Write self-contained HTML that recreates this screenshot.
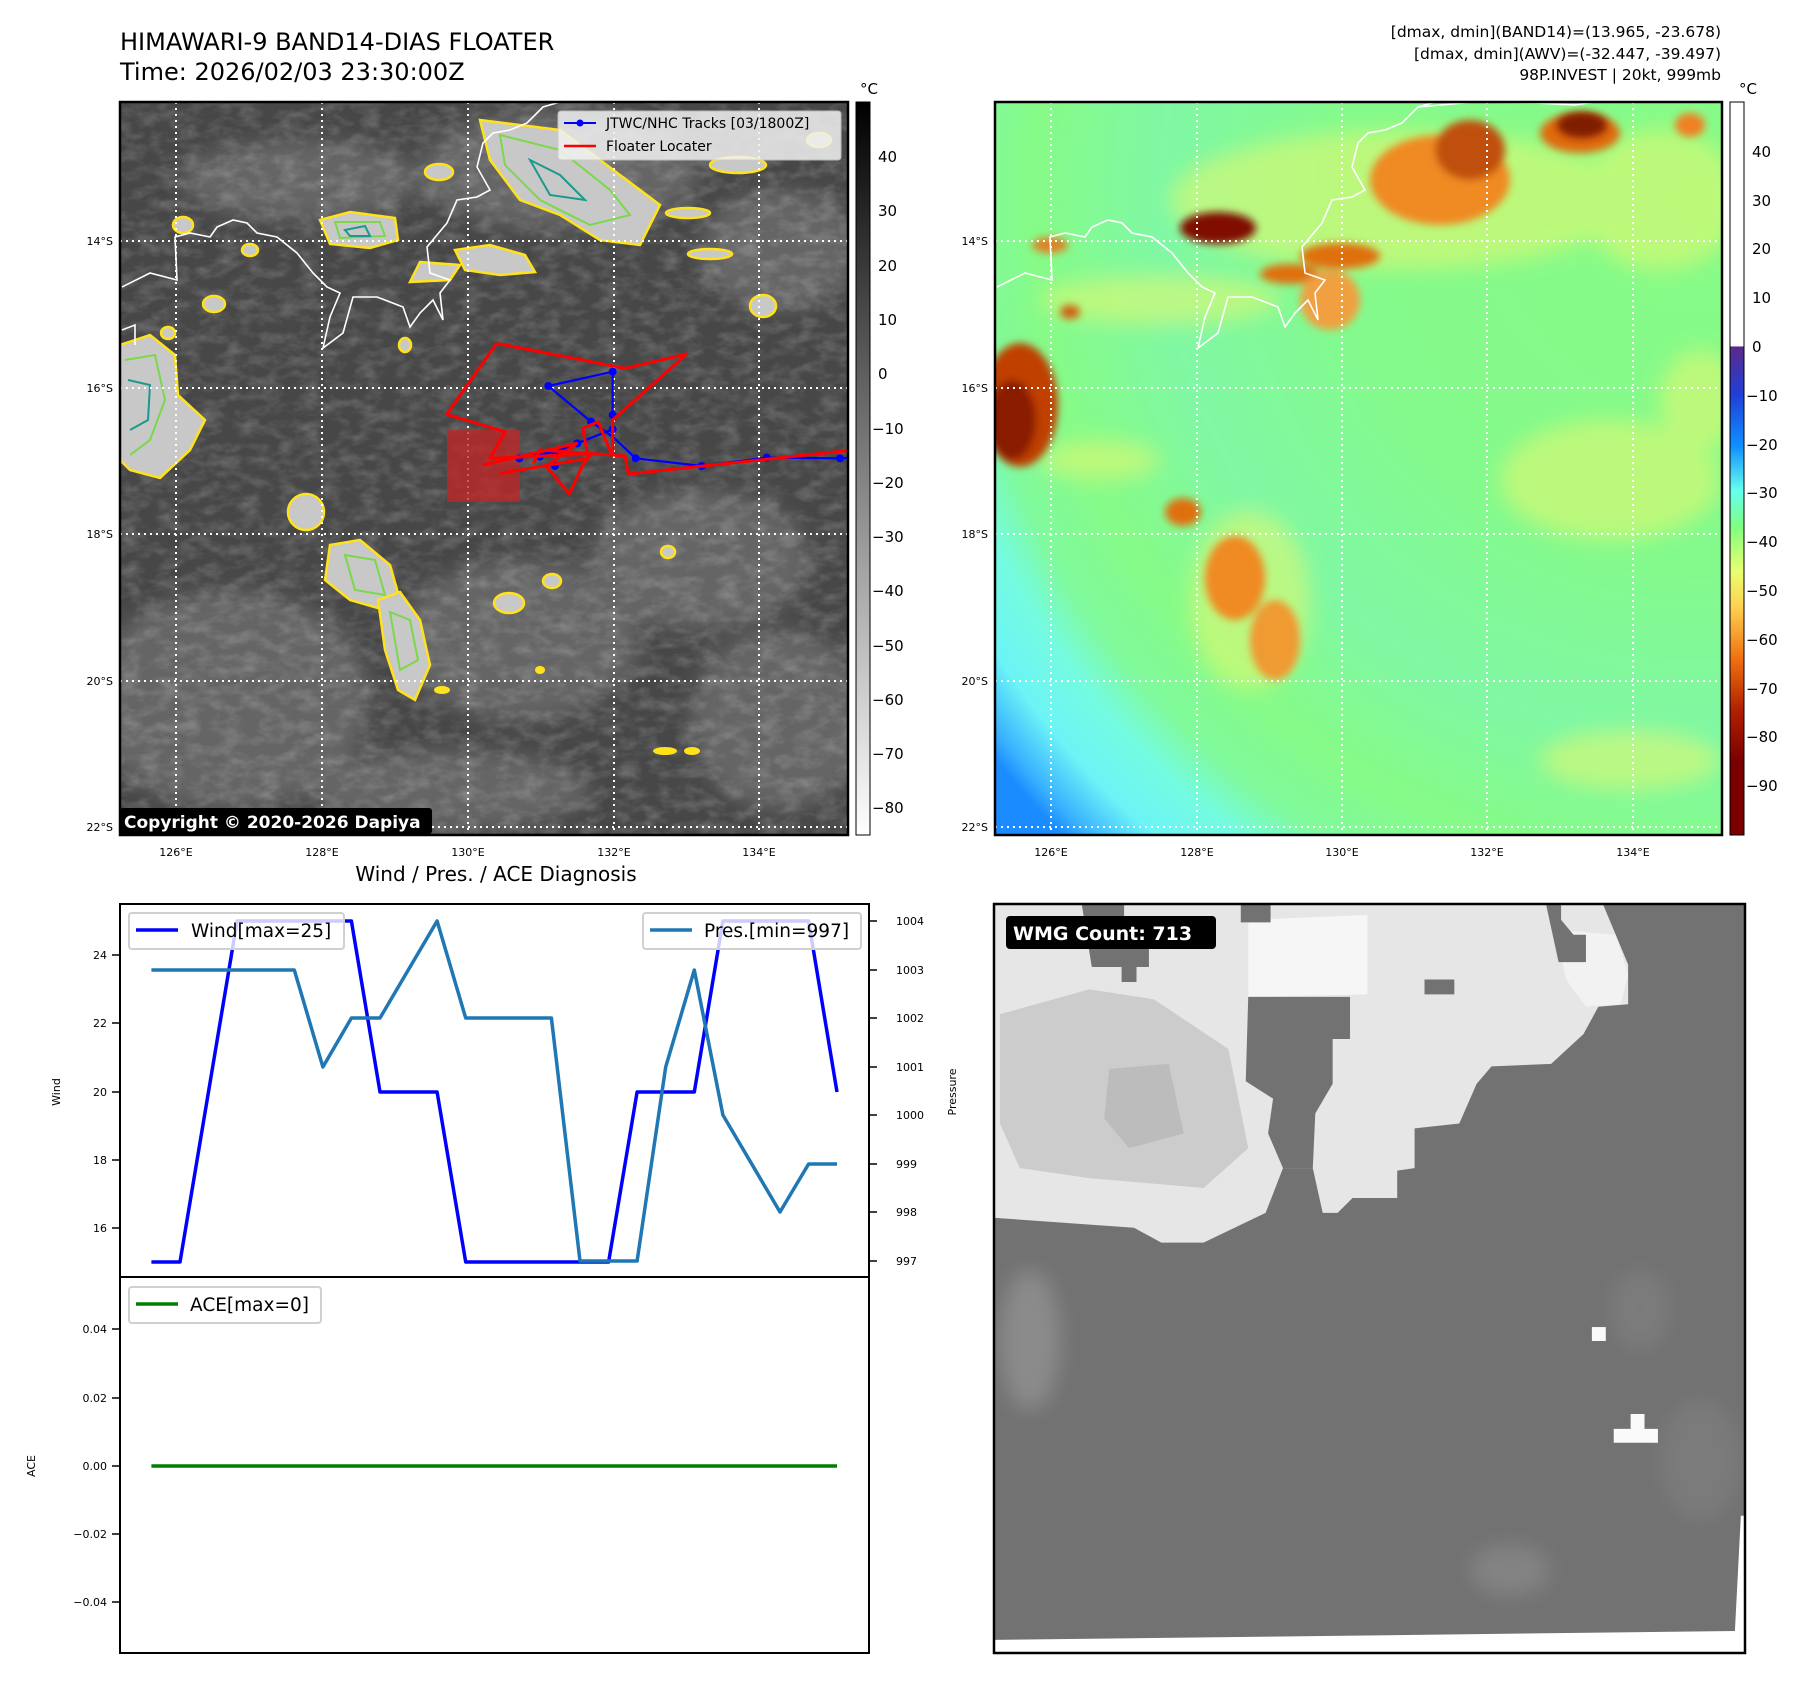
<!DOCTYPE html>
<html><head><meta charset="utf-8"><style>
html,body{margin:0;padding:0;background:#fff}
svg{display:block}
text{font-family:"DejaVu Sans","Liberation Sans",sans-serif;fill:#000}
</style></head><body>
<svg width="1813" height="1690" viewBox="0 0 1813 1690" xmlns="http://www.w3.org/2000/svg">
<defs>
<filter id="bl" x="-50%" y="-50%" width="200%" height="200%"><feGaussianBlur stdDeviation="10"/></filter>
<filter id="bl2" x="-50%" y="-50%" width="200%" height="200%"><feGaussianBlur stdDeviation="4"/></filter>
<filter id="tex" x="0" y="0" width="100%" height="100%"><feTurbulence type="fractalNoise" baseFrequency="0.05 0.09" numOctaves="3" seed="4"/><feColorMatrix type="matrix" values="0 0 0 0 1  0 0 0 0 1  0 0 0 0 1  1.4 0 0 0 -0.55"/></filter>
<linearGradient id="cbL" x1="0" y1="0" x2="0" y2="1"><stop offset="0" stop-color="#000"/><stop offset="1" stop-color="#fff"/></linearGradient>
<linearGradient id="cbR" x1="0" y1="0" x2="0" y2="1">
<stop offset="0" stop-color="#fff"/><stop offset="0.333" stop-color="#fff"/>
<stop offset="0.334" stop-color="#5a2a8a"/><stop offset="0.4" stop-color="#2040d8"/>
<stop offset="0.47" stop-color="#1090ff"/><stop offset="0.53" stop-color="#66ffee"/>
<stop offset="0.58" stop-color="#80ff80"/><stop offset="0.64" stop-color="#e8ff70"/>
<stop offset="0.69" stop-color="#ffd050"/><stop offset="0.76" stop-color="#f07010"/>
<stop offset="0.83" stop-color="#b02000"/><stop offset="0.9" stop-color="#7a0000"/><stop offset="1" stop-color="#7a0000"/></linearGradient>
<radialGradient id="rg" cx="1700" cy="200" r="900" gradientUnits="userSpaceOnUse">
<stop offset="0" stop-color="#88fb86"/><stop offset="0.4" stop-color="#84fa8c"/><stop offset="0.6" stop-color="#80f8a4"/><stop offset="0.74" stop-color="#86fb88"/><stop offset="0.82" stop-color="#80fa9c"/><stop offset="0.87" stop-color="#74fbe0"/><stop offset="0.93" stop-color="#6cf4f6"/><stop offset="0.98" stop-color="#38b0ff"/><stop offset="1" stop-color="#1a8cff"/></radialGradient>
<clipPath id="cL"><rect x="120" y="102" width="728" height="733"/></clipPath>
<clipPath id="cR"><rect x="995" y="102" width="727" height="733"/></clipPath>
<clipPath id="cW"><rect x="994" y="904" width="751" height="749"/></clipPath>
</defs>

<text x="120" y="50" font-size="24">HIMAWARI-9 BAND14-DIAS FLOATER</text>
<text x="120" y="80" font-size="24">Time: 2026/02/03 23:30:00Z</text>
<text x="1721" y="37" font-size="15.5" text-anchor="end">[dmax, dmin](BAND14)=(13.965, -23.678)</text>
<text x="1721" y="59" font-size="15.5" text-anchor="end">[dmax, dmin](AWV)=(-32.447, -39.497)</text>
<text x="1721" y="80" font-size="15.5" text-anchor="end">98P.INVEST | 20kt, 999mb</text>

<!-- LEFT MAP -->
<g clip-path="url(#cL)">
<rect x="120" y="102" width="728" height="733" fill="#474747"/>
<g filter="url(#bl)" fill="#7a7a7a" opacity="0.6">
<ellipse cx="230" cy="700" rx="140" ry="110"/><ellipse cx="520" cy="640" rx="120" ry="80"/>
<ellipse cx="700" cy="560" rx="110" ry="70"/><ellipse cx="780" cy="720" rx="90" ry="90"/>
<ellipse cx="560" cy="170" rx="140" ry="60"/><ellipse cx="300" cy="180" rx="120" ry="40"/>
<ellipse cx="450" cy="790" rx="140" ry="40"/><ellipse cx="780" cy="250" rx="80" ry="60"/>
</g>
<rect x="120" y="102" width="728" height="733" filter="url(#tex)" opacity="0.28"/>
<g stroke="#ffe21a" stroke-width="2.5" fill="#c8c8c8">
<path d="M120 345 L150 335 L175 355 L178 395 L205 420 L190 450 L160 478 L130 470 L120 460Z"/>
<path d="M480 120 L560 130 L620 175 L660 205 L640 245 L600 240 L560 215 L520 200 L490 160Z"/>
<path d="M320 220 L350 212 L395 218 L398 240 L370 248 L330 244Z"/>
<path d="M455 250 L490 245 L525 255 L535 272 L500 275 L465 270Z"/>
<path d="M420 262 L460 265 L450 280 L410 282Z"/>
<ellipse cx="306" cy="512" rx="18" ry="18"/>
<path d="M330 545 L360 540 L390 565 L400 600 L385 610 L350 600 L325 580Z"/>
<path d="M378 600 L400 592 L420 620 L430 665 L415 700 L398 690 L385 650Z"/>
<ellipse cx="214" cy="304" rx="11" ry="8"/><ellipse cx="183" cy="225" rx="10" ry="8"/>
<ellipse cx="168" cy="333" rx="7" ry="6"/><ellipse cx="763" cy="306" rx="13" ry="11"/>
<ellipse cx="509" cy="603" rx="15" ry="10"/><ellipse cx="552" cy="581" rx="9" ry="7"/>
<ellipse cx="668" cy="552" rx="7" ry="6"/><ellipse cx="439" cy="172" rx="14" ry="8"/>
<ellipse cx="688" cy="213" rx="22" ry="5"/><ellipse cx="710" cy="254" rx="22" ry="5"/>
<ellipse cx="819" cy="140" rx="12" ry="7"/><ellipse cx="738" cy="165" rx="28" ry="8"/>
<ellipse cx="250" cy="250" rx="8" ry="6"/><ellipse cx="405" cy="345" rx="6" ry="7"/>
</g>
<g fill="#ffe21a"><ellipse cx="665" cy="751" rx="12" ry="4"/><ellipse cx="692" cy="751" rx="8" ry="4"/><ellipse cx="442" cy="690" rx="8" ry="4"/><ellipse cx="540" cy="670" rx="5" ry="4"/></g>
<g stroke="#7ad84a" stroke-width="2" fill="none">
<path d="M125 360 L155 355 L165 400 L150 440 L130 455"/><path d="M500 135 L560 150 L610 190 L630 215 L590 225 L540 200 L505 165Z"/>
<path d="M335 222 L380 222 L385 236 L340 238Z"/><path d="M345 555 L375 560 L385 595 L355 590Z"/><path d="M390 612 L410 620 L418 660 L400 670Z"/>
</g>
<g stroke="#1a9a8a" stroke-width="2" fill="none">
<path d="M128 380 L150 385 L148 420 L130 430"/><path d="M530 160 L560 175 L585 200 L550 195Z"/><path d="M345 230 L365 226 L370 236 L350 236Z"/>
</g>
<g stroke="#fff" stroke-width="1.6" fill="none">
<path d="M122 287 L150 273 L177 280 L175 237 L190 233 L210 237 L217 227 L233 220 L247 223 L257 233 L277 237 L297 253 L313 273 L327 287 L340 293 L330 317 L323 348 L343 333 L353 297 L377 297 L403 307 L410 327 L420 313 L433 300 L443 320 L440 293 L450 280 L430 273 L427 247 L447 223 L457 200 L477 197 L490 190 L477 167 L483 143 L493 133 L510 130 L527 123 L543 107 L560 102"/>
<path d="M122 330 L135 325 L135 345"/>
</g>
<g stroke="#fff" stroke-width="2" stroke-dasharray="2,4" fill="none">
<path d="M176 102V835M322 102V835M468 102V835M614 102V835M759 102V835"/>
<path d="M120 241H848M120 388H848M120 534H848M120 681H848M120 827H848"/>
</g>
<rect x="447" y="430" width="73" height="72" fill="#c42424" opacity="0.75"/>
<g transform="translate(440,330) scale(0.33333)" fill="none" stroke-linejoin="round">
<path vector-effect="non-scaling-stroke" stroke="#0000ff" stroke-width="2.2" d="M1240 383 L1200 385 L980 383 L785 408 L587 385 L518 320 L453 275 L325 168 L518 125 L518 255 L518 298 L412 340 L345 365 L238 385"/>
<g fill="#0000ff"><circle cx="1200" cy="385" r="12"/><circle cx="980" cy="383" r="12"/><circle cx="785" cy="408" r="12"/><circle cx="587" cy="385" r="12"/><circle cx="453" cy="275" r="12"/><circle cx="325" cy="168" r="12"/><circle cx="518" cy="125" r="12"/><circle cx="518" cy="255" r="12"/><circle cx="518" cy="298" r="12"/><circle cx="412" cy="340" r="12"/><circle cx="345" cy="365" r="12"/><circle cx="238" cy="385" r="12"/><circle cx="345" cy="408" r="12"/><circle cx="300" cy="380" r="12"/></g>
<path vector-effect="non-scaling-stroke" stroke="#ff0000" stroke-width="3" d="M170 40 L555 115 L740 72 L518 270 L518 375 L555 378 L565 432 L1240 360"/>
<path vector-effect="non-scaling-stroke" stroke="#ff0000" stroke-width="3" d="M170 40 L20 253 L195 305 L150 385 L455 372 L428 405 L388 492 L320 410 L410 340 L128 405"/>
<path vector-effect="non-scaling-stroke" stroke="#ff0000" stroke-width="3" d="M180 430 L445 385 L428 295 L475 275 L515 375 L300 360 L280 400"/>
</g>
</g>
<rect x="120" y="102" width="728" height="733" fill="none" stroke="#000" stroke-width="2.5"/>
<rect x="558" y="111" width="283" height="49" rx="3" fill="#f2f2f2" opacity="0.85" stroke="#ccc"/>
<line x1="564" y1="123" x2="596" y2="123" stroke="#00f" stroke-width="2"/><circle cx="580" cy="123" r="3.5" fill="#00f"/>
<text x="606" y="128" font-size="14">JTWC/NHC Tracks [03/1800Z]</text>
<line x1="564" y1="146" x2="596" y2="146" stroke="#f00" stroke-width="2.5"/>
<text x="606" y="151" font-size="14">Floater Locater</text>
<rect x="120" y="808" width="312" height="26" rx="3" fill="#000"/>
<text x="124" y="828" font-size="17" font-weight="bold" style="fill:#fff">Copyright © 2020-2026 Dapiya</text>
<g font-size="11" text-anchor="end"><text x="113" y="245">14°S</text><text x="113" y="392">16°S</text><text x="113" y="538">18°S</text><text x="113" y="685">20°S</text><text x="113" y="831">22°S</text></g>
<g font-size="11" text-anchor="middle"><text x="176" y="856">126°E</text><text x="322" y="856">128°E</text><text x="468" y="856">130°E</text><text x="614" y="856">132°E</text><text x="759" y="856">134°E</text></g>
<rect x="856" y="102" width="14" height="733" fill="url(#cbL)" stroke="#000" stroke-width="1"/>
<text x="860" y="94" font-size="15">°C</text>
<g font-size="15"><text x="878" y="162">40</text><text x="878" y="216">30</text><text x="878" y="271">20</text><text x="878" y="325">10</text><text x="878" y="379">0</text><text x="872" y="434">−10</text><text x="872" y="488">−20</text><text x="872" y="542">−30</text><text x="872" y="596">−40</text><text x="872" y="651">−50</text><text x="872" y="705">−60</text><text x="872" y="759">−70</text><text x="872" y="813">−80</text></g>

<!-- RIGHT MAP -->
<g clip-path="url(#cR)">
<rect x="995" y="102" width="727" height="733" fill="url(#rg)"/>
<g filter="url(#bl)" fill="#e8f870" opacity="0.55">
<ellipse cx="1400" cy="200" rx="230" ry="70"/><ellipse cx="1660" cy="200" rx="80" ry="70"/><ellipse cx="1610" cy="480" rx="110" ry="60"/><ellipse cx="1700" cy="400" rx="40" ry="50"/>
<ellipse cx="1630" cy="760" rx="90" ry="30"/><ellipse cx="1250" cy="600" rx="60" ry="90"/><ellipse cx="1160" cy="300" rx="120" ry="25"/><ellipse cx="1100" cy="460" rx="60" ry="20"/>
</g>
<g filter="url(#bl2)">
<ellipse cx="1440" cy="180" rx="70" ry="45" fill="#f08a20"/><ellipse cx="1580" cy="133" rx="40" ry="20" fill="#e06a10"/>
<ellipse cx="1020" cy="405" rx="38" ry="62" fill="#c04000"/><ellipse cx="1012" cy="420" rx="24" ry="40" fill="#8a1a00"/>
<ellipse cx="1340" cy="256" rx="40" ry="13" fill="#e07010"/><ellipse cx="1290" cy="274" rx="30" ry="10" fill="#e07010"/>
<ellipse cx="1235" cy="578" rx="30" ry="42" fill="#f08a20"/><ellipse cx="1275" cy="640" rx="25" ry="40" fill="#f09a30"/>
<ellipse cx="1183" cy="512" rx="18" ry="14" fill="#e07010"/><ellipse cx="1690" cy="125" rx="15" ry="12" fill="#f08020"/>
<ellipse cx="1050" cy="245" rx="18" ry="8" fill="#e08020"/><ellipse cx="1070" cy="312" rx="10" ry="7" fill="#d06010"/>
<ellipse cx="1470" cy="150" rx="35" ry="30" fill="#c05008"/><ellipse cx="1330" cy="300" rx="30" ry="30" fill="#f0a040"/>
</g>
<ellipse cx="1218" cy="228" rx="38" ry="16" fill="#801000" filter="url(#bl2)"/>
<ellipse cx="1582" cy="125" rx="25" ry="13" fill="#801a00" filter="url(#bl2)"/>
<g stroke="#fff" stroke-width="1.6" fill="none" transform="translate(875,0)">
<path d="M122 287 L150 273 L177 280 L175 237 L190 233 L210 237 L217 227 L233 220 L247 223 L257 233 L277 237 L297 253 L313 273 L327 287 L340 293 L330 317 L323 348 L343 333 L353 297 L377 297 L403 307 L410 327 L420 313 L433 300 L443 320 L440 293 L450 280 L430 273 L427 247 L447 223 L457 200 L477 197 L490 190 L477 167 L483 143 L493 133 L510 130 L527 123 L543 107 L560 102"/>
<path d="M543 107 L600 102 L660 103 L700 105 L720 102"/>
</g>
<g stroke="#fff" stroke-width="2" stroke-dasharray="2,4" fill="none">
<path d="M1051 102V835M1197 102V835M1342 102V835M1487 102V835M1633 102V835"/>
<path d="M995 241H1722M995 388H1722M995 534H1722M995 681H1722M995 827H1722"/>
</g>
</g>
<rect x="995" y="102" width="727" height="733" fill="none" stroke="#000" stroke-width="2.5"/>
<g font-size="11" text-anchor="end"><text x="988" y="245">14°S</text><text x="988" y="392">16°S</text><text x="988" y="538">18°S</text><text x="988" y="685">20°S</text><text x="988" y="831">22°S</text></g>
<g font-size="11" text-anchor="middle"><text x="1051" y="856">126°E</text><text x="1197" y="856">128°E</text><text x="1342" y="856">130°E</text><text x="1487" y="856">132°E</text><text x="1633" y="856">134°E</text></g>
<rect x="1730" y="102" width="14" height="733" fill="url(#cbR)" stroke="#000" stroke-width="1"/>
<text x="1739" y="94" font-size="15">°C</text>
<g font-size="15"><text x="1752" y="157">40</text><text x="1752" y="206">30</text><text x="1752" y="254">20</text><text x="1752" y="303">10</text><text x="1752" y="352">0</text><text x="1746" y="401">−10</text><text x="1746" y="450">−20</text><text x="1746" y="498">−30</text><text x="1746" y="547">−40</text><text x="1746" y="596">−50</text><text x="1746" y="645">−60</text><text x="1746" y="694">−70</text><text x="1746" y="742">−80</text><text x="1746" y="791">−90</text></g>

<!-- BOTTOM LEFT -->
<text x="496" y="881" font-size="20" text-anchor="middle">Wind / Pres. / ACE Diagnosis</text>
<rect x="120" y="904" width="749" height="373" fill="none" stroke="#000" stroke-width="2"/>
<rect x="120" y="1277" width="749" height="376" fill="none" stroke="#000" stroke-width="2"/>
<g stroke="#000" stroke-width="1.5">
<path d="M112 955H120M112 1023H120M112 1092H120M112 1160H120M112 1228H120"/>
<path d="M869 921H877M869 970H877M869 1018H877M869 1067H877M869 1115H877M869 1164H877M869 1212H877M869 1261H877"/>
<path d="M112 1329H120M112 1398H120M112 1466H120M112 1534H120M112 1602H120"/>
</g>
<g font-size="11" text-anchor="end"><text x="107" y="959">24</text><text x="107" y="1027">22</text><text x="107" y="1096">20</text><text x="107" y="1164">18</text><text x="107" y="1232">16</text>
<text x="107" y="1333">0.04</text><text x="107" y="1402">0.02</text><text x="107" y="1470">0.00</text><text x="107" y="1538">−0.02</text><text x="107" y="1606">−0.04</text></g>
<g font-size="11"><text x="896" y="925">1004</text><text x="896" y="974">1003</text><text x="896" y="1022">1002</text><text x="896" y="1071">1001</text><text x="896" y="1119">1000</text><text x="896" y="1168">999</text><text x="896" y="1216">998</text><text x="896" y="1265">997</text></g>
<text font-size="11" transform="translate(60,1092) rotate(-90)" text-anchor="middle">Wind</text>
<text font-size="11" transform="translate(956,1092) rotate(-90)" text-anchor="middle">Pressure</text>
<text font-size="11" transform="translate(35,1466) rotate(-90)" text-anchor="middle">ACE</text>
<polyline fill="none" stroke="#0000ff" stroke-width="3.5" stroke-linejoin="round" points="151.4,1262 180,1262 237.1,921 351.4,921 380,1092 437.1,1092 465.7,1262 580,1262 608.6,1262 637.1,1092 694.3,1092 722.9,921 808.6,921 837,1092"/>
<polyline fill="none" stroke="#1f77b4" stroke-width="3.5" stroke-linejoin="round" points="151.4,970 294.3,970 322.9,1067 351.4,1018 380,1018 437.1,921 465.7,1018 551.4,1018 580,1261 637.1,1261 665.7,1067 694.3,970 722.9,1115 780,1212 808.6,1164 837,1164"/>
<rect x="129" y="913" width="215" height="36" rx="3" fill="#fff" fill-opacity="0.8" stroke="#d0d0d0" stroke-width="2"/>
<line x1="136" y1="930" x2="178" y2="930" stroke="#00f" stroke-width="3.5"/>
<text x="191" y="937" font-size="18.5">Wind[max=25]</text>
<rect x="643" y="913" width="218" height="36" rx="3" fill="#fff" fill-opacity="0.8" stroke="#d0d0d0" stroke-width="2"/>
<line x1="650" y1="930" x2="692" y2="930" stroke="#1f77b4" stroke-width="3.5"/>
<text x="704" y="937" font-size="18.5">Pres.[min=997]</text>
<line x1="151.4" y1="1466" x2="837" y2="1466" stroke="#008000" stroke-width="3.5"/>
<rect x="129" y="1287" width="192" height="36" rx="3" fill="#fff" stroke="#d0d0d0" stroke-width="2"/>
<line x1="136" y1="1304" x2="178" y2="1304" stroke="#008000" stroke-width="3.5"/>
<text x="190" y="1311" font-size="18.5">ACE[max=0]</text>

<!-- BOTTOM RIGHT -->
<g clip-path="url(#cW)">
<rect x="994" y="904" width="751" height="749" fill="#727272"/>
<g filter="url(#bl)" opacity="0.45"><ellipse cx="1030" cy="1340" rx="30" ry="70" fill="#aaa"/><ellipse cx="1510" cy="1570" rx="40" ry="25" fill="#999"/><ellipse cx="1640" cy="1310" rx="30" ry="40" fill="#888"/><ellipse cx="1700" cy="1460" rx="40" ry="60" fill="#868686"/></g>
<g transform="translate(990,900) scale(0.4966)">
<path fill="#e6e6e6" d="M10 10 L1235 10 L1260 70 L1285 130 L1285 210 L1225 215 L1195 270 L1130 330 L1010 335 L980 370 L945 450 L855 460 L855 540 L820 545 L820 600 L730 600 L700 630 L670 630 L650 540 L590 540 L555 630 L430 690 L345 690 L290 660 L10 640Z"/>
<path fill="#cccccc" d="M20 230 L200 180 L330 200 L480 300 L520 500 L430 580 L200 560 L60 540 L20 450Z"/>
<path fill="#bcbcbc" d="M240 340 L360 330 L390 470 L280 500 L230 440Z"/>
<path fill="#f6f6f6" d="M520 40 L760 30 L760 190 L520 195Z"/>
<path fill="#f2f2f2" d="M1140 60 L1260 70 L1285 150 L1270 210 L1200 215 L1160 160Z"/>
<path fill="#727272" d="M520 195 L725 195 L725 280 L690 280 L690 370 L655 430 L650 540 L590 540 L560 470 L570 400 L515 365Z"/>
<path fill="#727272" d="M185 10 L270 10 L270 40 L320 40 L320 135 L295 135 L295 165 L265 165 L265 135 L205 135Z"/>
<path fill="#727272" d="M505 10 L565 10 L565 45 L505 45Z"/>
<path fill="#727272" d="M1120 10 L1150 10 L1150 40 L1175 70 L1200 70 L1200 125 L1145 125Z"/>
<path fill="#727272" d="M875 160 L935 160 L935 190 L875 190Z"/>
<rect x="1212" y="860" width="28" height="28" fill="#fafafa"/>
<path fill="#fafafa" d="M1290 1035 L1318 1035 L1318 1065 L1345 1065 L1345 1093 L1256 1093 L1256 1065 L1290 1065Z"/>
<path fill="#fff" d="M10 1490 L1500 1472 L1512 1240 L1530 1240 L1530 1530 L10 1530Z"/>
</g>
</g>
<rect x="994" y="904" width="751" height="749" fill="none" stroke="#000" stroke-width="2.5"/>
<rect x="1006" y="916" width="210" height="33" rx="4" fill="#000"/>
<text x="1013" y="940" font-size="19" font-weight="bold" style="fill:#fff">WMG Count: 713</text>
</svg>
</body></html>
